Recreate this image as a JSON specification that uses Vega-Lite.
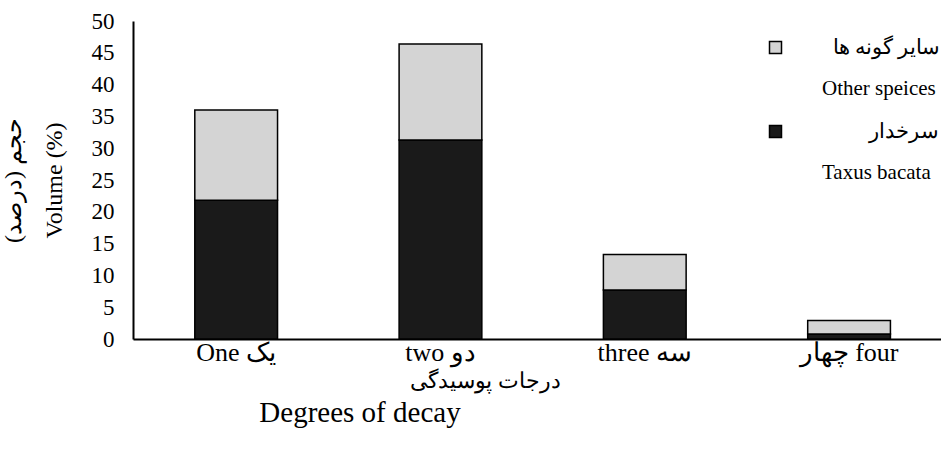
{
  "$schema": "https://vega.github.io/schema/vega-lite/v6.json",
  "width": 808,
  "height": 318,
  "autosize": {"type": "none"},
  "padding": {"left": 133, "top": 21, "right": 0, "bottom": 117},
  "background": "white",
  "config": {
    "view": {"stroke": null},
    "font": "Liberation Serif"
  },
  "title": {
    "text": "Degrees of decay",
    "orient": "bottom",
    "frame": "group",
    "anchor": "middle",
    "dx": -177,
    "offset": 8,
    "font": "Liberation Serif",
    "fontSize": 29,
    "fontWeight": "normal",
    "color": "black"
  },
  "data": {
    "values": [
      {"degree": "One یک", "species": "Taxus bacata", "order": 1, "volume": 21.8},
      {"degree": "One یک", "species": "Other speices", "order": 2, "volume": 14.2},
      {"degree": "two دو", "species": "Taxus bacata", "order": 1, "volume": 31.3},
      {"degree": "two دو", "species": "Other speices", "order": 2, "volume": 15.1},
      {"degree": "three سه", "species": "Taxus bacata", "order": 1, "volume": 7.7},
      {"degree": "three سه", "species": "Other speices", "order": 2, "volume": 5.6},
      {"degree": "چهار four", "species": "Taxus bacata", "order": 1, "volume": 0.8},
      {"degree": "چهار four", "species": "Other speices", "order": 2, "volume": 2.1}
    ]
  },
  "mark": {"type": "bar", "stroke": "black", "strokeWidth": 1.5},
  "encoding": {
    "x": {
      "field": "degree",
      "type": "nominal",
      "sort": null,
      "scale": {"paddingInner": 0.595, "paddingOuter": 0.275, "align": 0.55},
      "axis": {
        "title": "درجات پوسیدگی",
        "titleX": 352,
        "titleY": 41,
        "titleAlign": "center",
        "titleBaseline": "middle",
        "titleFont": "Liberation Serif",
        "titleFontSize": 22,
        "titleFontWeight": "normal",
        "titleColor": "black",
        "labelAngle": 0,
        "labelFont": "Liberation Serif",
        "labelFontSize": 26,
        "labelColor": "black",
        "labelPadding": 0,
        "ticks": false,
        "domainColor": "black",
        "domainWidth": 2
      }
    },
    "y": {
      "field": "volume",
      "type": "quantitative",
      "stack": "zero",
      "scale": {"domain": [0, 50], "nice": false},
      "axis": {
        "title": ["حجم (درصد)", "Volume (%)"],
        "titleFont": "Liberation Serif",
        "titleFontSize": 24,
        "titleFontWeight": "normal",
        "titleColor": "black",
        "titleLineHeight": 41,
        "titlePadding": 25,
        "values": [0, 5, 10, 15, 20, 25, 30, 35, 40, 45, 50],
        "labelFont": "Liberation Serif",
        "labelFontSize": 23,
        "labelColor": "black",
        "labelPadding": 19,
        "ticks": false,
        "grid": false,
        "domainColor": "black",
        "domainWidth": 2
      }
    },
    "fill": {
      "field": "species",
      "type": "nominal",
      "scale": {"domain": ["Other speices", "Taxus bacata"], "range": ["#d4d4d4", "#1a1a1a"]},
      "legend": {
        "title": null,
        "orient": "none",
        "legendX": 632,
        "legendY": 16,
        "symbolType": "square",
        "symbolSize": 144,
        "symbolStrokeColor": "black",
        "symbolStrokeWidth": 1.5,
        "labelFont": "Liberation Serif",
        "labelFontSize": 21,
        "labelColor": "black",
        "labelAlign": "left",
        "labelBaseline": "middle",
        "labelOffset": 36,
        "labelLimit": 0,
        "labelExpr": "datum.label == 'Taxus bacata' ? ['\u200e\u00a0\u00a0\u00a0\u00a0\u00a0\u00a0\u00a0\u00a0\u00a0\u200eسرخدار', 'Taxus bacata'] : ['\u200e\u00a0\u00a0\u200eسایر گونه ها', 'Other speices']",
        "rowPadding": 21,
        "encode": {
          "labels": {"update": {"lineHeight": {"value": 41}}}
        }
      }
    },
    "order": {"field": "order", "type": "quantitative"}
  }
}
